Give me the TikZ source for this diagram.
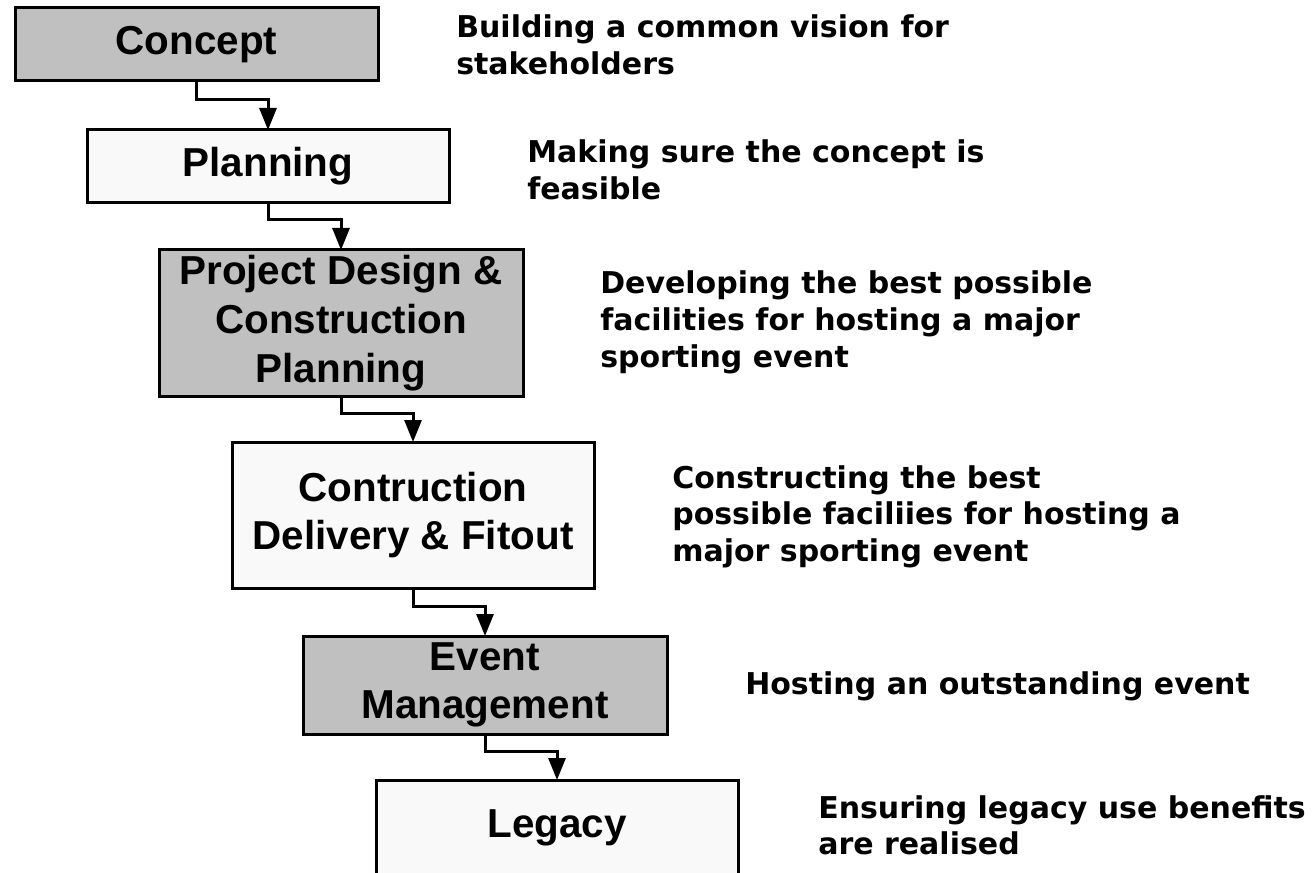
\documentclass[tikz,border=0pt]{standalone}
\usepackage{fontspec}
\setmainfont{Liberation Sans}
\newfontfamily\descfont{DejaVu Sans}
\usetikzlibrary{arrows.meta}
\definecolor{boxgray}{RGB}{192,192,192}
\definecolor{boxwhite}{RGB}{249,249,249}
\tikzset{
  stage/.style={draw=black, line width=2.25pt, outer sep=0pt, inner sep=0pt,
    align=center, font={\fontsize{30.3}{36.5}\selectfont\bfseries}, text=black},
  graystage/.style={stage, fill=boxgray},
  whitestage/.style={stage, fill=boxwhite},
  flow/.style={draw=black, line width=2.25pt, -{Triangle[length=16.5pt,width=12.75pt]}},
  desc/.style={anchor=base west, inner sep=0pt, font={\descfont\bfseries\fontsize{22.5}{27.5}\selectfont}},
}
\begin{document}
\begin{tikzpicture}[x=0.75pt,y=-0.75pt]
\useasboundingbox (0,0) rectangle (1312,873);
\clip (0,0) rectangle (1312,873);
% stages
\node[graystage, minimum width=272.25pt, minimum height=54.75pt] (concept) at (196.5,44.5) {Concept};
\node[whitestage, minimum width=271.5pt, minimum height=54.75pt] (planning) at (268,166.5) {Planning};
\node[graystage, minimum width=273pt, minimum height=109.5pt] (design) at (341,323) {Project Design \&\\Construction\\Planning};
\node[whitestage, minimum width=271.5pt, minimum height=109.5pt] (delivery) at (413,515) {Contruction\\Delivery \& Fitout};
\node[graystage, minimum width=273pt, minimum height=73.5pt] (event) at (485,685) {Event\\Management};
\node[whitestage, minimum width=271.5pt, minimum height=72pt] (legacy) at (557,828) {Legacy};
% connectors
\draw[flow] (concept.south) -- ++(0,19) -| (planning.north);
\draw[flow] (planning.south) -- ++(0,17) -| (design.north);
\draw[flow] (design.south) -- ++(0,17) -| (delivery.north);
\draw[flow] (delivery.south) -- ++(0,18) -| (event.north);
\draw[flow] (event.south) -- ++(0,17) -| (legacy.north);
% descriptions
\node[desc] (d1) at (456,38) {\vtop{\hbox{Building a common vision for}\hbox{stakeholders}}};
\node[desc] (d2) at (527,163) {\vtop{\hbox{Making sure the concept is}\hbox{feasible}}};
\node[desc] (d3) at (600,294) {\vtop{\hbox{Developing the best possible}\hbox{facilities for hosting a major}\hbox{sporting event}}};
\node[desc] (d4) at (672,488) {\vtop{\hbox{Constructing the best}\hbox{possible faciliies for hosting a}\hbox{major sporting event}}};
\node[desc] (d5) at (745,694) {Hosting an outstanding event};
\node[desc] (d6) at (818,818) {\vtop{\hbox{Ensuring legacy use benefits}\hbox{are realised}}};
\end{tikzpicture}
\end{document}
